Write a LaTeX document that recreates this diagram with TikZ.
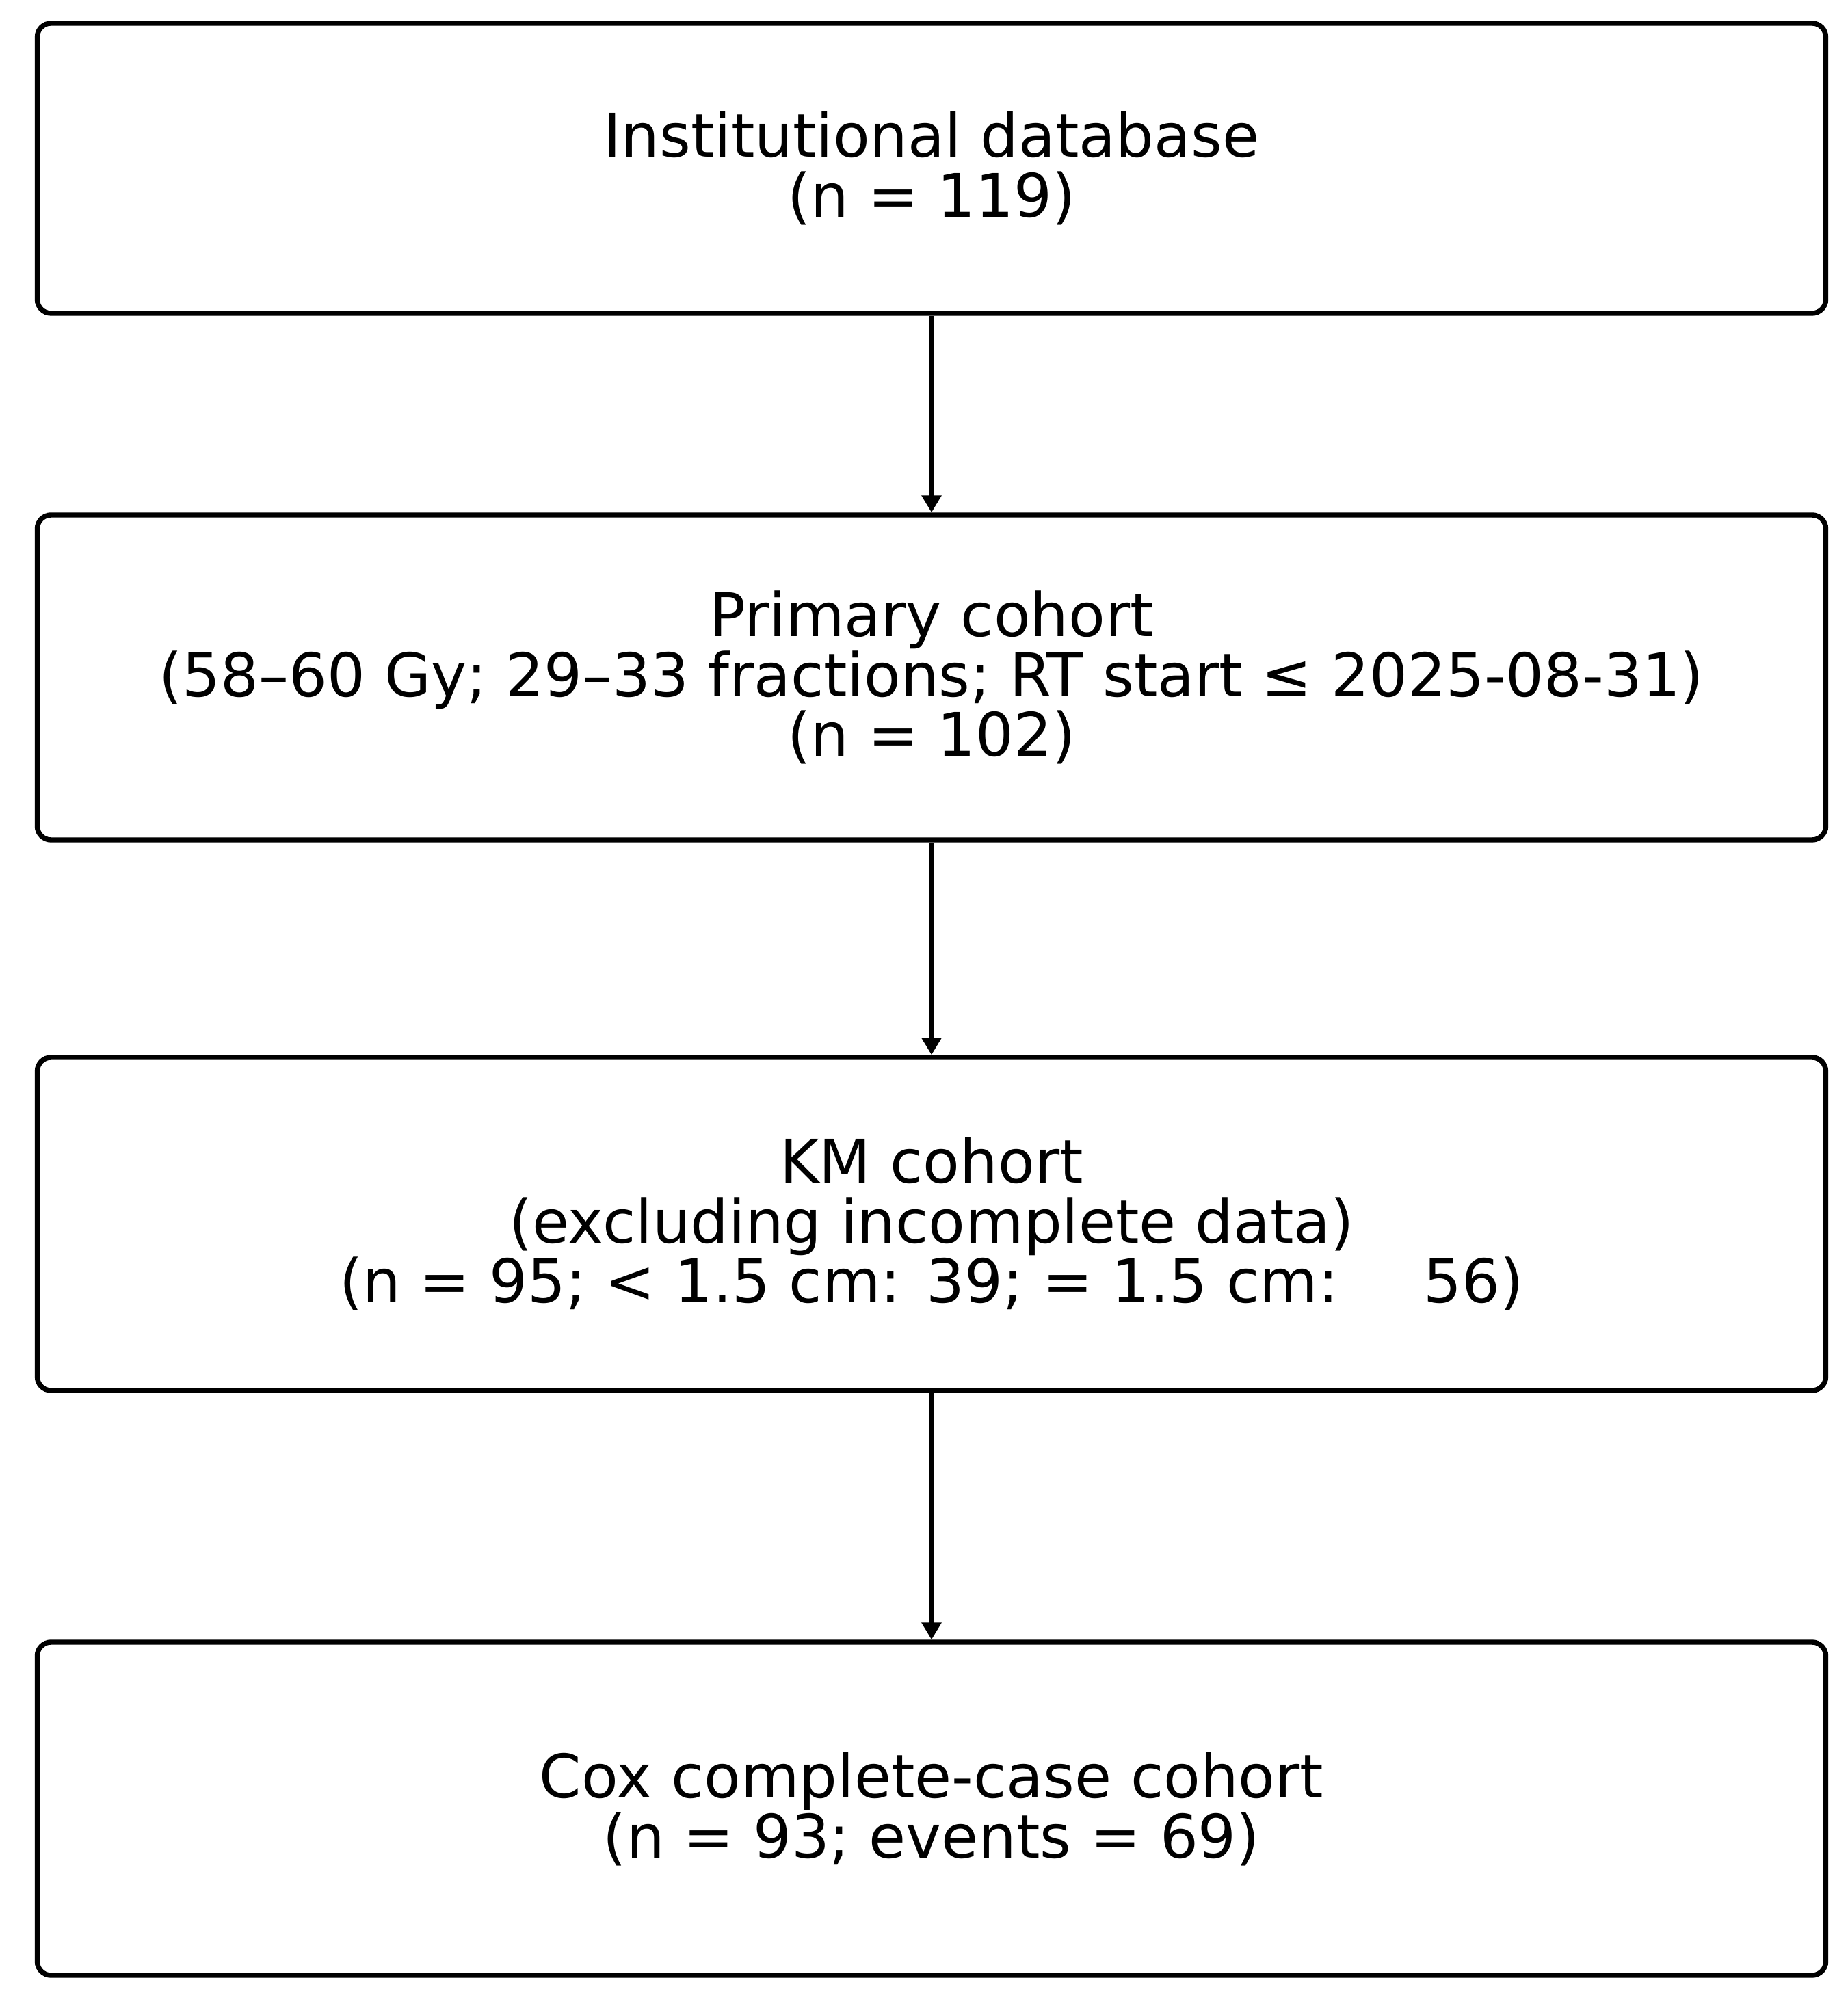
\documentclass[tikz,border=0pt]{standalone}
\usepackage{fontspec}
\setmainfont{DejaVu Sans}
\usetikzlibrary{arrows.meta, positioning}

\begin{document}
\begin{tikzpicture}
	\tikzset{box/.style = {rectangle, rounded corners=0.2cm, minimum width=26.15cm,
	text centered, align=center, draw=black, line width=2.1pt,
	font=\fontsize{25}{25}\selectfont},
	arrow/.style = {line width=2pt, -{Triangle[length=0.25cm, width=0.28cm]}}}
	\useasboundingbox (0,0) rectangle (27.01,29.30);
	\node (database) [box, minimum height=4.24cm] at (13.62,26.84) {Institutional database\\(n = 119)};
	\node (primary) [box, minimum height=4.75cm] at (13.62,19.395) {Primary cohort\\(58–60 Gy; 29–33 fractions; RT start ≤ 2025-08-31)\\(n = 102)};
	\node (km) [box, minimum height=4.87cm] at (13.62,11.405) {KM cohort\\(excluding incomplete data)\\(n = 95; < 1.5 cm: 39; = 1.5 cm: \quad 56)};
	\node (cox) [box, minimum height=4.87cm] at (13.62,2.855) {Cox complete-case cohort\\(n = 93; events = 69)};
	\draw [arrow] (database) -- (primary);
	\draw [arrow] (primary) -- (km);
	\draw [arrow] (km) -- (cox);
\end{tikzpicture}
\end{document}
